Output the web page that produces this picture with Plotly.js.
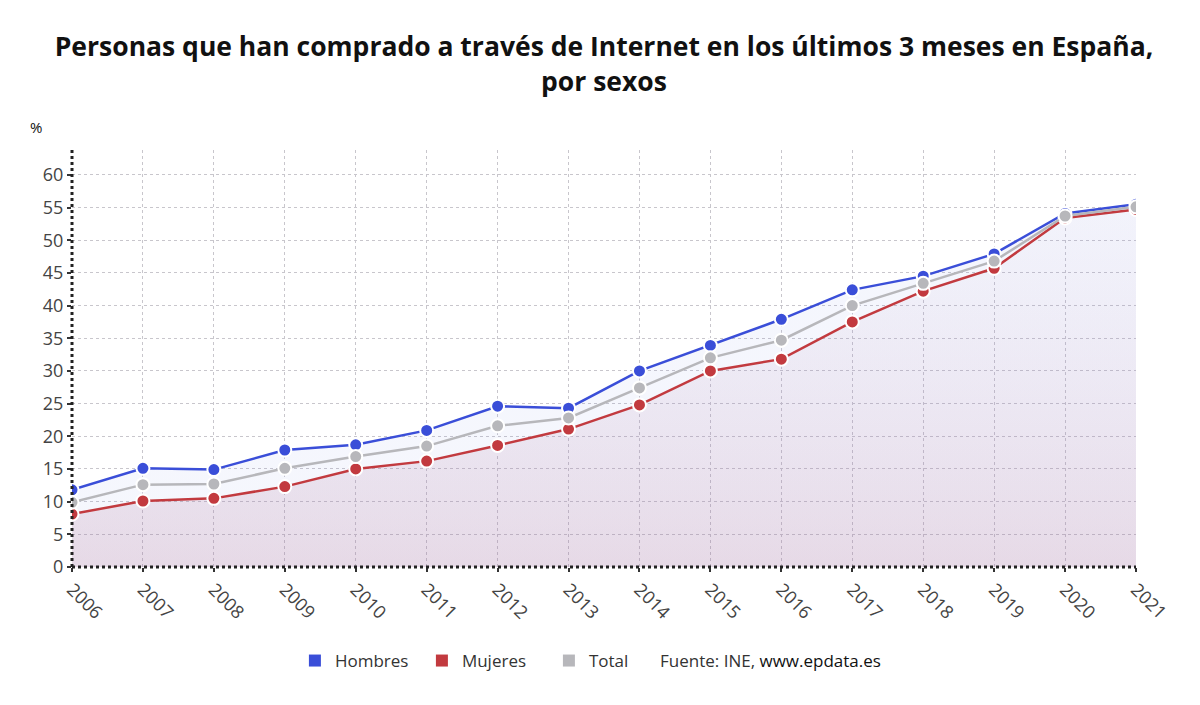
<!DOCTYPE html>
<html>
<head>
<meta charset="utf-8">
<script src="https://cdn.plot.ly/plotly-3.0.1.min.js"></script>
<style>html,body{margin:0;padding:0;background:#fff;}#chart{width:1200px;height:705px;}</style>
</head>
<body>
<div id="chart"></div>
<script>
const years = [2006,2007,2008,2009,2010,2011,2012,2013,2014,2015,2016,2017,2018,2019,2020,2021];
const hombres = [11.8,15.1,14.9,17.9,18.7,20.9,24.6,24.3,30.0,33.9,37.9,42.4,44.5,47.9,54.1,55.5];
const mujeres = [8.1,10.1,10.5,12.3,15.0,16.2,18.6,21.1,24.8,30.0,31.8,37.5,42.2,45.7,53.4,54.7];
const total = [9.9,12.6,12.7,15.1,16.9,18.5,21.6,22.8,27.4,32.0,34.7,40.0,43.4,46.8,53.7,55.1];
const yTicks = [0,5,10,15,20,25,30,35,40,45,50,55,60];

const FONT = "'Open Sans', 'Noto Sans', sans-serif";
const BLUE = '#3a4ed8', RED = '#c23a3f', GRAY = '#b7b7bb';

function lineTrace(name, y, color, fill) {
  const t = {
    type: 'scatter', mode: 'lines+markers', name: name, x: years, y: y,
    line: {color: color, width: 2.5},
    marker: {color: color, size: 13, line: {color: '#ffffff', width: 2}},
    showlegend: false, hoverinfo: 'x+y+name'
  };
  if (fill) { t.fill = 'tozeroy'; t.fillgradient = fill; }
  return t;
}
function legendTrace(name, color) {
  return {type: 'bar', name: name, x: [null], y: [null], marker: {color: color}, showlegend: true, hoverinfo: 'skip'};
}

const data = [
  lineTrace('Hombres', hombres, BLUE, {type: 'vertical', colorscale: [[0, 'rgba(120,140,230,0.07)'], [1, 'rgba(120,140,230,0.08)']]}),
  lineTrace('Mujeres', mujeres, RED, {type: 'vertical', colorscale: [[0, 'rgba(170,100,140,0.20)'], [1, 'rgba(175,150,200,0.03)']]}),
  lineTrace('Total', total, GRAY, null),
  legendTrace('Hombres', BLUE),
  legendTrace('Mujeres', RED),
  legendTrace('Total', GRAY)
];

const layout = {
  width: 1200, height: 705,
  margin: {l: 72, r: 64, t: 150, b: 138, autoexpand: false},
  paper_bgcolor: '#ffffff', plot_bgcolor: '#ffffff',
  font: {family: FONT, color: '#444', size: 17},
  title: {
    text: '<b>Personas que han comprado a través de Internet en los últimos 3 meses en España,<br>por sexos</b>',
    font: {family: FONT, size: 26.5, color: '#111'},
    x: 0.5, xref: 'paper', xanchor: 'center', yref: 'container', y: 0.92, yanchor: 'middle'
  },
  xaxis: {
    range: [2006, 2021], tickvals: years, ticktext: years.map(String), tickangle: 45,
    showgrid: true, gridcolor: '#c8c6cc', griddash: 'dot', gridwidth: 1,
    ticks: 'outside', ticklen: 4, tickcolor: '#333', tickwidth: 2,
    showline: false, zeroline: false, automargin: false,
    tickfont: {family: FONT, size: 18, color: '#444'}
  },
  yaxis: {
    range: [0, 63.8], tickvals: yTicks,
    showgrid: true, gridcolor: '#c8c6cc', griddash: 'dot', gridwidth: 1,
    ticks: 'outside', ticklen: 4, tickcolor: '#333', tickwidth: 2,
    showline: false, zeroline: false, automargin: false,
    tickfont: {family: FONT, size: 18, color: '#444'}
  },
  barmode: 'overlay',
  legend: {
    orientation: 'h', x: 0.2095, xanchor: 'left', y: -0.2254, yanchor: 'middle',
    font: {family: FONT, size: 17, color: '#333'},
    entrywidth: 82, entrywidthmode: 'pixels',
    itemclick: false, itemdoubleclick: false, traceorder: 'normal'
  },
  annotations: [
    {text: '%', xref: 'paper', yref: 'paper', x: -0.034, y: 1.055, xanchor: 'center', yanchor: 'middle', showarrow: false, font: {family: FONT, size: 15, color: '#111'}},
    {text: 'Fuente: INE, <span style="color:#111">www.epdata.es</span>', xref: 'paper', yref: 'paper', x: 0.5508, y: -0.2254, xanchor: 'left', yanchor: 'middle', showarrow: false, font: {family: FONT, size: 17, color: '#333'}}
  ],
  shapes: [
    {type: 'line', xref: 'paper', yref: 'paper', x0: 0, x1: 0, y0: 0, y1: 1, line: {color: '#222', width: 3, dash: 'dot'}},
    {type: 'line', xref: 'paper', yref: 'paper', x0: 0, x1: 1, y0: 0, y1: 0, line: {color: '#222', width: 3, dash: 'dot'}}
  ]
};

Plotly.newPlot('chart', data, layout, {displayModeBar: false, responsive: false});
</script>
</body>
</html>
